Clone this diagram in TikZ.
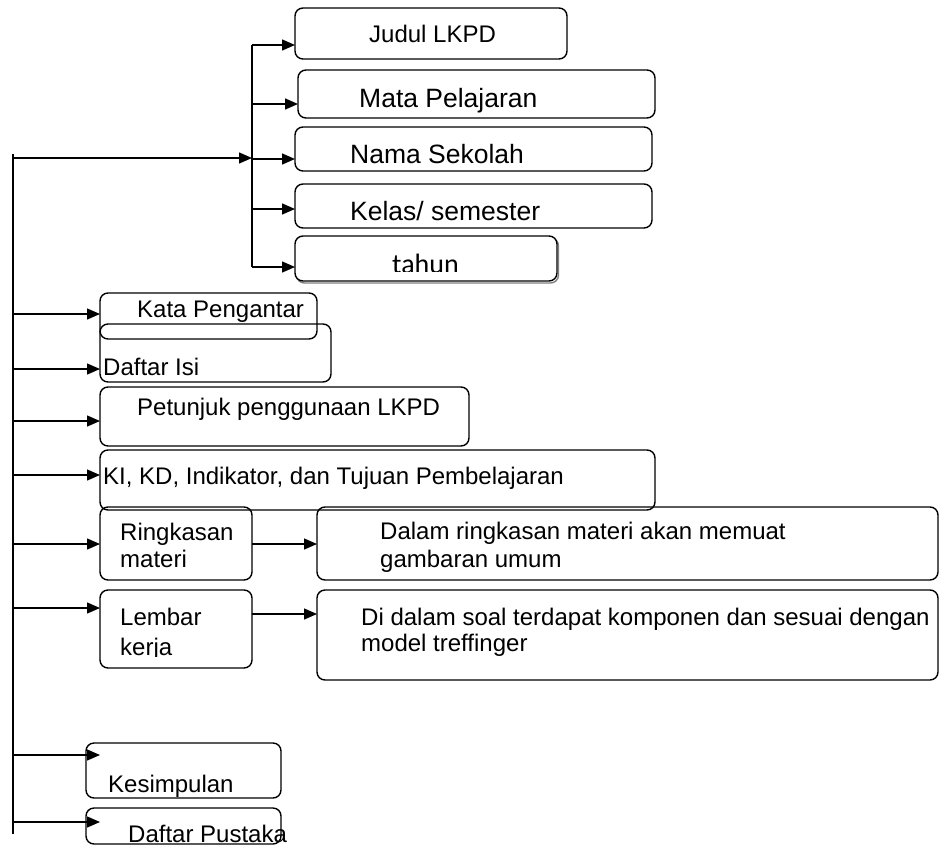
\documentclass[tikz,border=0pt]{standalone}
\usepackage{fontspec}
\setmainfont{Liberation Sans}
\newfontfamily\calfont{Carlito}
\usetikzlibrary{arrows.meta}
\tikzset{
  box/.style={draw, line width=1.4pt, rounded corners=8pt, inner sep=0pt, outer sep=0pt},
  conn/.style={line width=1.4pt},
  arr/.style={line width=1.4pt, -{Triangle[length=13pt,width=11pt]}},
  trunk/.style={line width=2.2pt},
  lbl/.style={inner sep=0pt, anchor=base west, font=\fontsize{24}{28}\selectfont},
  lblbig/.style={lbl, font=\fontsize{26.5}{30}\selectfont},
  shadowline/.style={draw=gray, line width=1.4pt, rounded corners=8pt}
}
\newcommand\bx[5]{\node[box,minimum width={#4-#2},minimum height={#5-#3}] (#1) at ({(#2+#4)/2},{(#3+#5)/2}) {};}
\begin{document}
\begin{tikzpicture}[x=1pt,y=-1pt]
\useasboundingbox (0,0) rectangle (939,846);
% boxes
\bx{judul}{295}{8}{567}{59}
\bx{mata}{298}{70}{655}{118}
\bx{nama}{295}{127}{652}{171}
\bx{kelas}{295}{184}{652}{228}
\draw[shadowline] (296.5,238) rectangle (558.5,283);
\node[box, fill=white, minimum width=262, minimum height=45] (tahun) at (426,258.5) {};
\bx{kata}{100}{293}{317}{339}
\bx{daftarisi}{100}{324}{331}{382}
\bx{petunjuk}{100}{387}{469}{446}
\bx{ki}{100}{450}{655}{510}
\bx{ring}{100}{507}{252}{580}
\bx{dalam}{317}{507}{938}{580}
\bx{lembar}{100}{590}{252}{668}
\bx{didalam}{317}{590}{938}{680}
\bx{kesimpulan}{86}{743}{281}{798}
\bx{pustaka}{86}{808}{281}{844}
% trunk
\coordinate (top) at (13,154);
\coordinate (bot) at (13,834);
\draw[trunk] (top) -- (bot);
% sub trunk
\coordinate (s0) at (252,45);
\coordinate (s4) at (252,267);
\draw[conn] (s0) -- (s4);
\coordinate (h0) at (13,158);
\draw[arr] (h0) -- (h0 -| s0);
\coordinate (b1) at (252,45);
\coordinate (b2) at (252,104);
\coordinate (b3) at (252,159);
\coordinate (b4) at (252,209);
\coordinate (b5) at (252,267);
\draw[arr] (b1) -- (b1 -| judul.west);
\draw[arr] (b2) -- (b2 -| mata.west);
\draw[arr] (b3) -- (b3 -| nama.west);
\draw[arr] (b4) -- (b4 -| kelas.west);
\draw[arr] (b5) -- (b5 -| tahun.west);
% left branches
\coordinate (l1) at (13,314);
\coordinate (l2) at (13,369);
\coordinate (l3) at (13,421);
\coordinate (l4) at (13,475);
\coordinate (l5) at (13,544);
\coordinate (l6) at (13,608);
\coordinate (l7) at (13,755);
\coordinate (l8) at (13,822);
\draw[arr] (l1) -- (l1 -| kata.west);
\draw[arr] (l2) -- (l2 -| daftarisi.west);
\draw[arr] (l3) -- (l3 -| petunjuk.west);
\draw[arr] (l4) -- (l4 -| ki.west);
\draw[arr] (l5) -- (l5 -| ring.west);
\draw[arr] (l6) -- (l6 -| lembar.west);
\coordinate (t7) at (100,755);
\coordinate (t8) at (100,822);
\draw[arr] (l7) -- (t7);
\draw[arr] (l8) -- (t8);
% second level
\coordinate (r1) at (252,544);
\draw[arr] (r1) -- (r1 -| dalam.west);
\coordinate (r2) at (252,614);
\draw[arr] (r2) -- (r2 -| didalam.west);
% texts
\node[lbl] (tjudul) at (369,42) {Judul LKPD};
\node[lblbig] (tmata) at (359,107) {Mata Pelajaran};
\node[lblbig] (tnama) at (350,163) {Nama Sekolah};
\node[lblbig] (tkelas) at (350,220) {Kelas/ semester};
\begin{scope}
\clip (297,238) rectangle (555,271);
\node[lbl, font=\calfont\fontsize{28}{30}\selectfont] (ttahun) at (392,273) {tahun};
\end{scope}
\node[lbl] (tkata) at (137,317) {Kata Pengantar};
\node[lbl] (tisi) at (103,375) {Daftar Isi};
\node[lbl] (tpet) at (137,415) {Petunjuk penggunaan LKPD};
\node[lbl] (tki) at (103,484) {KI, KD, Indikator, dan Tujuan Pembelajaran};
\node[lbl] (tring1) at (120,540) {Ringkasan};
\node[lbl] (tring2) at (120,567) {materi};
\node[lbl] (tlem1) at (120,625) {Lembar};
\begin{scope}
\clip (102,630) rectangle (250,656.5);
\node[lbl] (tlem2) at (120,655) {kerja};
\end{scope}
\node[lbl] (tdal1) at (380,539) {Dalam ringkasan materi akan memuat};
\node[lbl] (tdal2) at (380,567) {gambaran umum};
\node[lbl] (tdi1) at (361,625) {Di dalam soal terdapat komponen dan sesuai dengan};
\node[lbl] (tdi2) at (361,651) {model treffinger};
\node[lbl] (tkes) at (108,792) {Kesimpulan};
\node[lbl] (tpus) at (128,842) {Daftar Pustaka};
\end{tikzpicture}
\end{document}
